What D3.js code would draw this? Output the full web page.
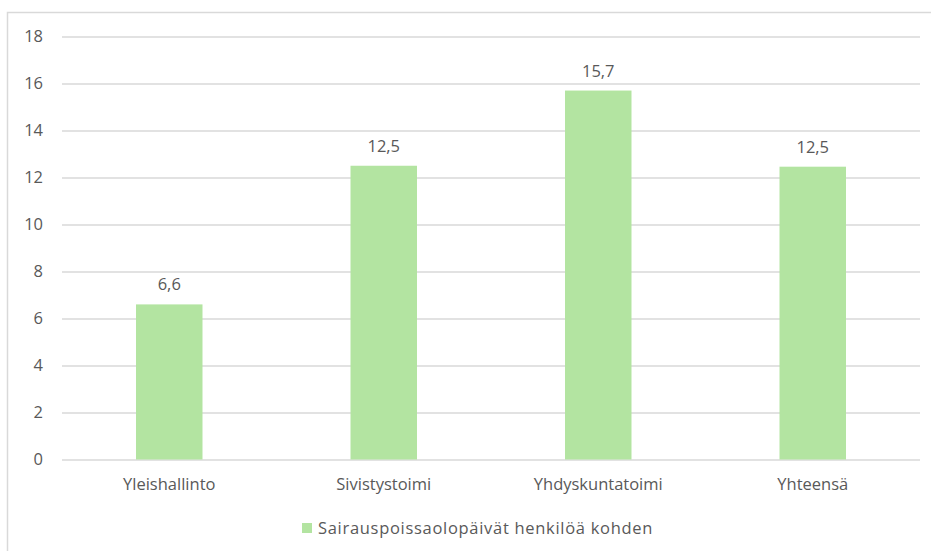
<!DOCTYPE html>
<html>
<head>
<meta charset="utf-8">
<title>Sairauspoissaolopäivät</title>
<script src="https://d3js.org/d3.v7.min.js"></script>
<style>
  body { margin: 0; background: #fff; }
  text { font-family: "Open Sans", "Liberation Sans", sans-serif; fill: #595959; }
</style>
</head>
<body>
<div id="chart"></div>
<script>
// data
const categories = ["Yleishallinto", "Sivistystoimi", "Yhdyskuntatoimi", "Yhteensä"]
const values = [6.6, 12.5, 15.7, 12.46]
const yTicks = [0, 2, 4, 6, 8, 10, 12, 14, 16, 18]
const seriesName = "Sairauspoissaolopäivät henkilöä kohden"

const W = 931, H = 551
const margin = {top: 36.5, right: 11, bottom: 91.5, left: 62}
const w = W - margin.left - margin.right
const h = H - margin.top - margin.bottom
const fs = "16.5px"

const svg = d3.select("#chart").append("svg")
    .attr("width", W)
    .attr("height", H)

// chart area frame (only top and left visible, rest is cut off)
svg.append("rect")
    .attr("x", 7.5).attr("y", 12.5)
    .attr("width", W + 20).attr("height", H + 20)
    .attr("fill", "none")
    .attr("stroke", "#d9d9d9")
    .attr("stroke-width", 1.5)

const g = svg.append("g")
    .attr("transform", "translate(" + margin.left + "," + margin.top + ")")

const x = d3.scaleBand()
    .domain(categories)
    .range([0, w])
    .paddingInner(0.69)
    .paddingOuter(0.345)

const y = d3.scaleLinear()
    .domain([0, 18])
    .range([h, 0])

// gridlines
const grid = g.append("g")
    .call(d3.axisLeft(y).tickValues(yTicks).tickSize(-w).tickFormat(""))
grid.select(".domain").remove()
grid.selectAll("line").attr("stroke", "#d9d9d9").attr("stroke-width", 1.5)

// y tick labels
const yAxis = g.append("g")
    .call(d3.axisLeft(y).tickValues(yTicks).tickSize(0).tickPadding(19))
yAxis.select(".domain").remove()
yAxis.selectAll("text")
    .attr("font-size", fs)
    .attr("fill", "#595959")

// bars
g.selectAll("rect.bar")
    .data(values)
    .join("rect")
    .attr("class", "bar")
    .attr("x", (d, i) => x(categories[i]))
    .attr("y", d => y(d))
    .attr("width", x.bandwidth())
    .attr("height", d => h - y(d))
    .attr("fill", "#b3e4a1")

// value labels
g.selectAll("text.val")
    .data(values)
    .join("text")
    .attr("class", "val")
    .attr("x", (d, i) => x(categories[i]) + x.bandwidth() / 2)
    .attr("y", d => y(d) - 14)
    .attr("text-anchor", "middle")
    .attr("font-size", fs)
    .text(d => d3.format(".1f")(d).replace(".", ","))

// category axis labels
const xAxis = g.append("g")
    .attr("transform", "translate(0," + h + ")")
    .call(d3.axisBottom(x).tickSize(0).tickPadding(19))
xAxis.select(".domain").remove()
xAxis.selectAll("text")
    .attr("font-size", fs)
    .attr("fill", "#595959")

// legend
const legend = svg.append("g")
    .attr("transform", "translate(302,523)")
legend.append("rect")
    .attr("width", 10).attr("height", 10)
    .attr("fill", "#b3e4a1")
legend.append("text")
    .attr("x", 16).attr("y", 11)
    .attr("font-size", fs)
    .attr("letter-spacing", "0.7px")
    .text(seriesName)
</script>
</body>
</html>
